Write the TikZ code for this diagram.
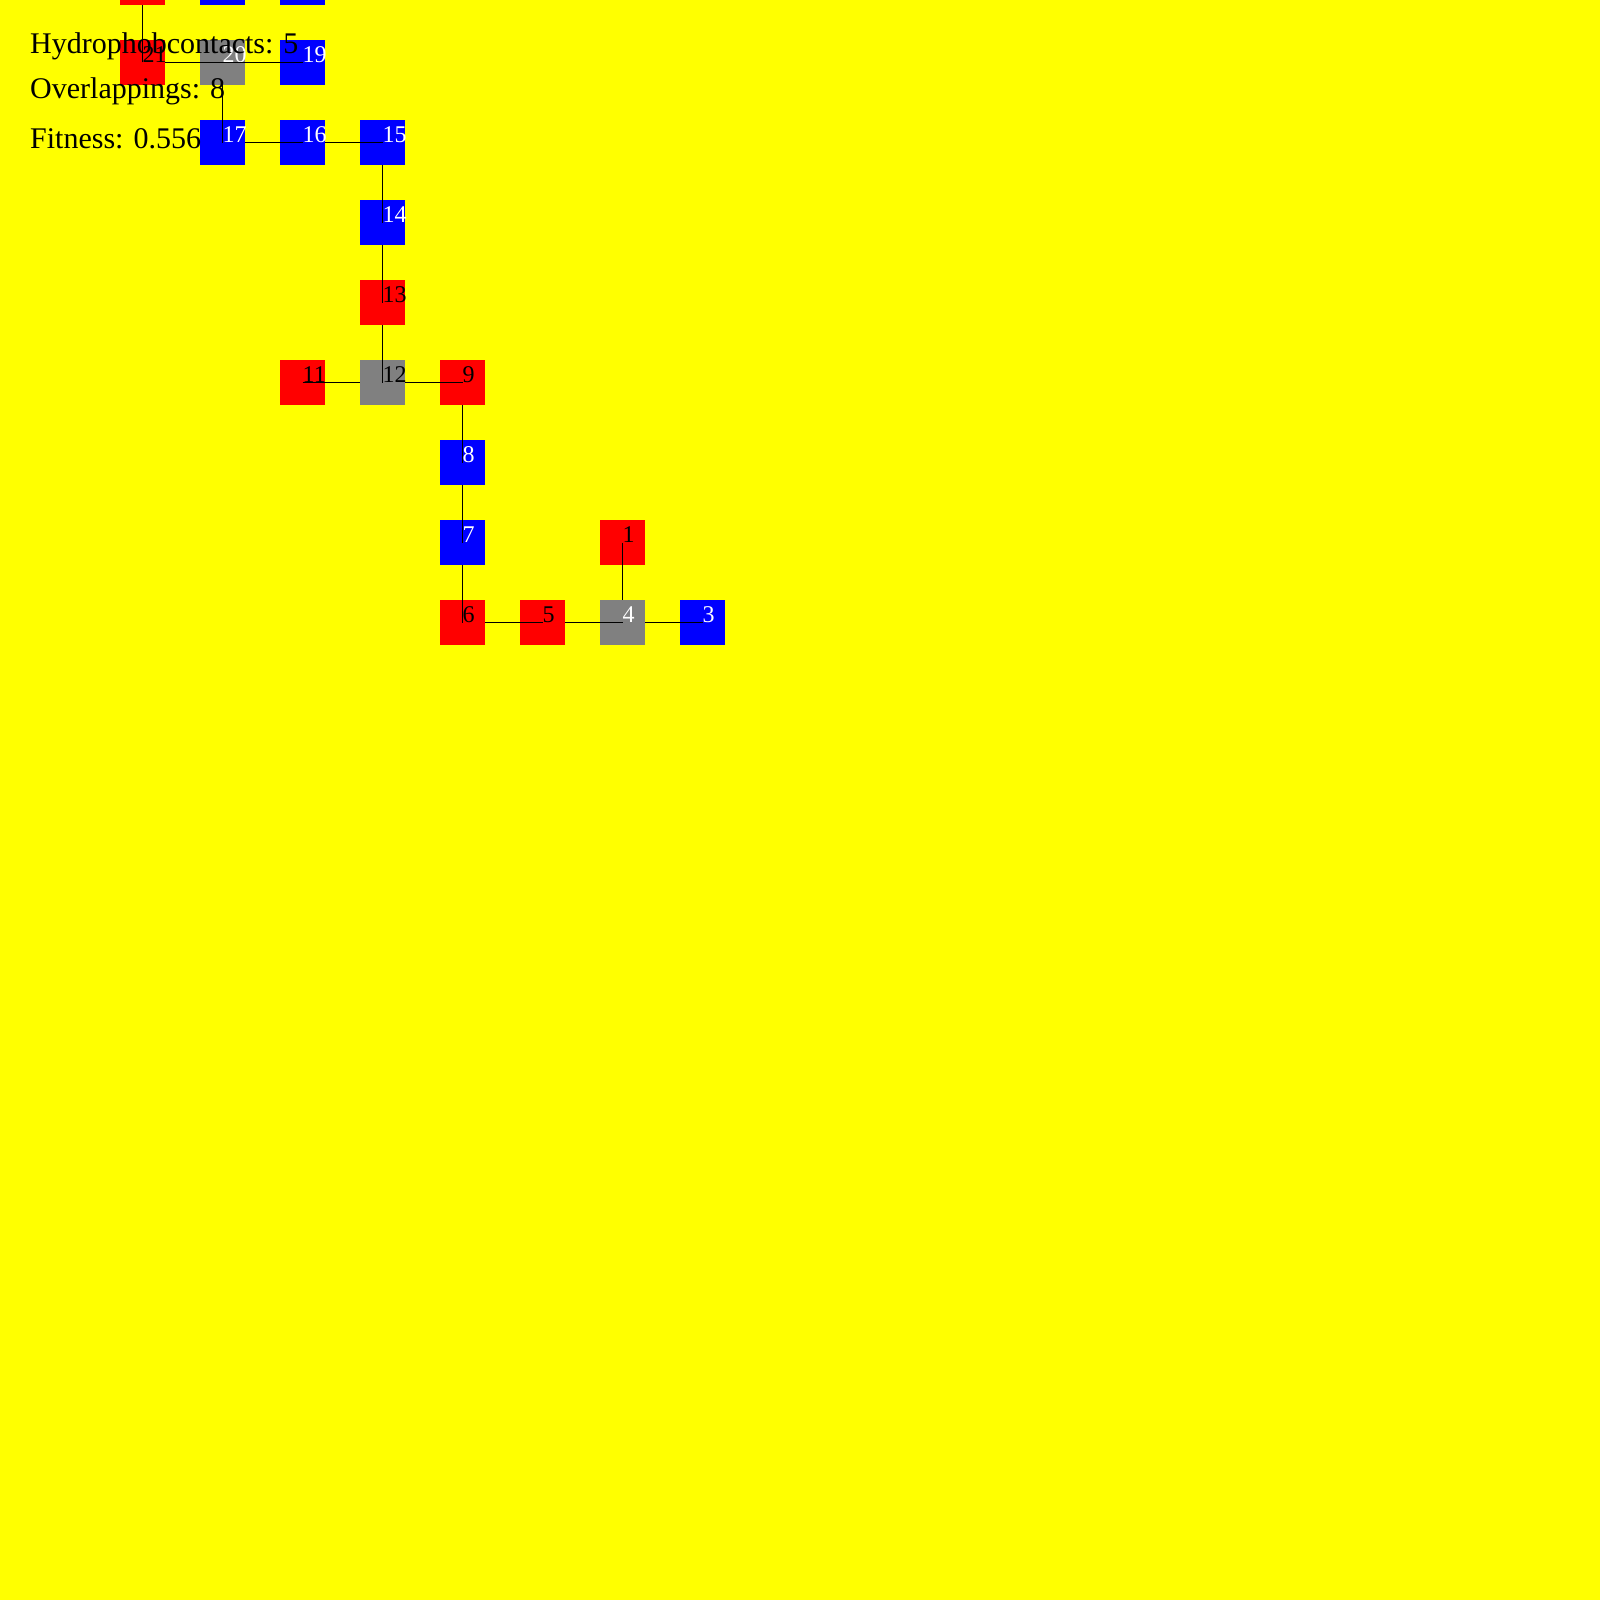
\documentclass[tikz,border=0pt]{standalone}
\usepackage{fontspec}
\setmainfont{Liberation Serif}
\definecolor{bg}{RGB}{255,255,0}
\definecolor{hr}{RGB}{255,0,0}
\definecolor{pb}{RGB}{0,0,255}
\definecolor{ov}{RGB}{128,128,128}
\newcommand{\rsq}[5]{%
  \node[res, fill=#3] (#1) at (#2) {};
  \node[lab, text=#4] (#1l) at (#2) {#5};}
\newcommand{\rbox}[3]{%
  \node[res, fill=#3] (#1) at (#2) {};}
\begin{document}
\begin{tikzpicture}[x=1pt,y=-1pt,
  res/.style={rectangle, draw=none, inner sep=0pt, minimum size=45pt},
  lab/.style={anchor=base west, inner sep=0pt, font=\fontsize{24}{28}\selectfont},
  link/.style={draw=black, line width=1pt},
  stat/.style={anchor=base west, inner sep=0pt, text=black, font=\fontsize{30}{36}\selectfont}]
\fill[bg] (0,0) rectangle (1600,1600);
\useasboundingbox (0,0) rectangle (1600,1600);
% residue centres
\coordinate (c1) at (622.5,542.5);
\coordinate (c2) at (622.5,622.5);
\coordinate (c3) at (702.5,622.5);
\coordinate (c4) at (622.5,622.5);
\coordinate (c5) at (542.5,622.5);
\coordinate (c6) at (462.5,622.5);
\coordinate (c7) at (462.5,542.5);
\coordinate (c8) at (462.5,462.5);
\coordinate (c9) at (462.5,382.5);
\coordinate (c10) at (382.5,382.5);
\coordinate (c11) at (302.5,382.5);
\coordinate (c12) at (382.5,382.5);
\coordinate (c13) at (382.5,302.5);
\coordinate (c14) at (382.5,222.5);
\coordinate (c15) at (382.5,142.5);
\coordinate (c16) at (302.5,142.5);
\coordinate (c17) at (222.5,142.5);
\coordinate (c18) at (222.5,62.5);
\coordinate (c19) at (302.5,62.5);
\coordinate (c20) at (222.5,62.5);
\coordinate (c21) at (142.5,62.5);
\coordinate (c22) at (142.5,-17.5);
\coordinate (c23) at (222.5,-17.5);
\coordinate (c24) at (302.5,-17.5);
% chain, drawn in order
\rsq{n1}{c1}{hr}{black}{1}
\draw[link] (c1) -- (c2) -- (c3);
\rsq{n3}{c3}{pb}{white}{3}
\draw[link] (c3) -- (c4);
\rsq{n4}{c4}{ov}{white}{4}
\draw[link] (c4) -- (c5);
\rsq{n5}{c5}{hr}{black}{5}
\draw[link] (c5) -- (c6);
\rsq{n6}{c6}{hr}{black}{6}
\draw[link] (c6) -- (c7);
\rsq{n7}{c7}{pb}{white}{7}
\draw[link] (c7) -- (c8);
\rsq{n8}{c8}{pb}{white}{8}
\draw[link] (c8) -- (c9);
\rsq{n9}{c9}{hr}{black}{9}
\draw[link] (c9) -- (c10) -- (c11);
\rsq{n11}{c11}{hr}{black}{11}
\draw[link] (c11) -- (c12);
\rsq{n12}{c12}{ov}{black}{12}
\draw[link] (c12) -- (c13);
\rsq{n13}{c13}{hr}{black}{13}
\draw[link] (c13) -- (c14);
\rsq{n14}{c14}{pb}{white}{14}
\draw[link] (c14) -- (c15);
\rsq{n15}{c15}{pb}{white}{15}
\draw[link] (c15) -- (c16);
\rsq{n16}{c16}{pb}{white}{16}
\draw[link] (c16) -- (c17);
\rsq{n17}{c17}{pb}{white}{17}
\draw[link] (c17) -- (c18) -- (c19);
\rsq{n19}{c19}{pb}{white}{19}
\rsq{n20}{c20}{ov}{white}{20}
\draw[link] (c19) -- (c20) -- (c21);
\rsq{n21}{c21}{hr}{black}{21}
\draw[link] (c21) -- (c22);
\rbox{n22}{c22}{hr}
\rbox{n23}{c23}{pb}
\rbox{n24}{c24}{pb}
% statistics
\node[stat] (s1) at (30,54) {Hydrophobcontacts: 5};
\node[stat] (s2) at (30,99) {Overlappings: 8};
\node[stat] (s3) at (30,148) {Fitness: 0.556};
\end{tikzpicture}
\end{document}
